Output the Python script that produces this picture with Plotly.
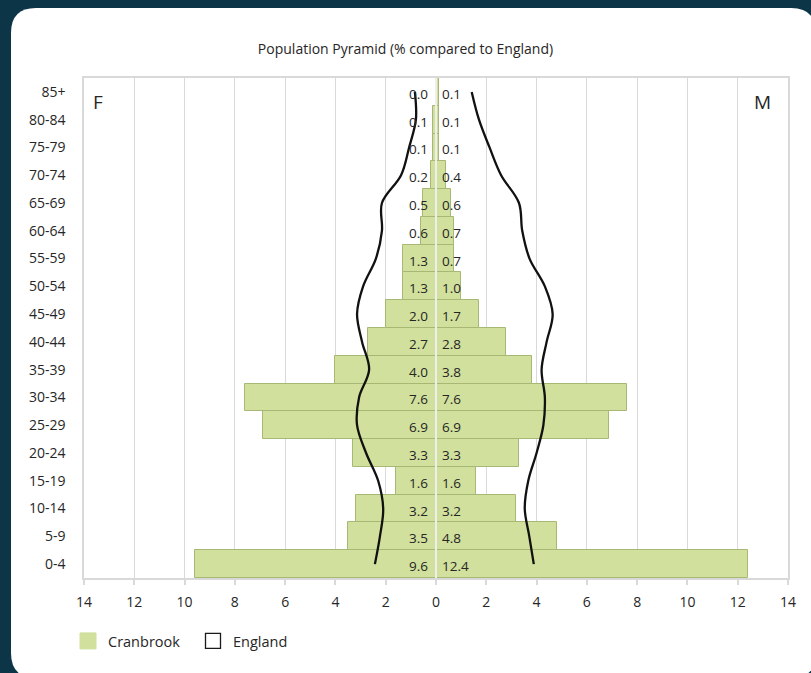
import plotly.graph_objects as go

ages = ["0-4", "5-9", "10-14", "15-19", "20-24", "25-29", "30-34", "35-39", "40-44",
        "45-49", "50-54", "55-59", "60-64", "65-69", "70-74", "75-79", "80-84", "85+"]
cranbrook_f = [9.6, 3.5, 3.2, 1.6, 3.3, 6.9, 7.6, 4.0, 2.7, 2.0, 1.3, 1.3, 0.6, 0.5, 0.2, 0.1, 0.1, 0.0]
cranbrook_m = [12.4, 4.8, 3.2, 1.6, 3.3, 6.9, 7.6, 3.8, 2.8, 1.7, 1.0, 0.7, 0.7, 0.6, 0.4, 0.1, 0.1, 0.1]
england_f = [2.43, 2.23, 2.10, 2.30, 2.78, 3.14, 3.06, 2.66, 2.94, 3.14, 2.90, 2.39, 2.15, 2.15, 1.39, 1.07, 0.80, 0.84]
england_m = [3.89, 3.71, 3.53, 3.67, 4.00, 4.27, 4.33, 4.20, 4.40, 4.64, 4.33, 3.72, 3.43, 3.30, 2.59, 2.13, 1.71, 1.42]
x_ticks = list(range(-14, 15, 2))

FONT = "Open Sans"
BAR_FILL = "#d1e09c"
BAR_LINE = "#a7b874"
TEXT = "#262626"
GRID = "#d9d9d9"

W, H = 811, 673
ML, MR, MT, MB = 84, 23, 78, 95
PW, PH = W - ML - MR, H - MT - MB

fig = go.Figure()
fig.add_trace(go.Bar(y=ages, x=[-v for v in cranbrook_f], orientation="h",
                     marker=dict(color=BAR_FILL, line=dict(color=BAR_LINE, width=1)),
                     showlegend=False, hoverinfo="skip"))
fig.add_trace(go.Bar(y=ages, x=cranbrook_m, orientation="h",
                     marker=dict(color=BAR_FILL, line=dict(color=BAR_LINE, width=1)),
                     showlegend=False, hoverinfo="skip"))
fig.add_trace(go.Scatter(y=ages, x=[-v for v in england_f], mode="lines",
                         line=dict(color="#111111", width=2.3, shape="spline", smoothing=1.0),
                         showlegend=False, hoverinfo="skip"))
fig.add_trace(go.Scatter(y=ages, x=england_m, mode="lines",
                         line=dict(color="#111111", width=2.3, shape="spline", smoothing=1.0),
                         showlegend=False, hoverinfo="skip"))
# legend-only entries
fig.add_trace(go.Scatter(x=[None], y=[None], mode="markers", name="Cranbrook",
                         marker=dict(symbol="square", size=16, color=BAR_FILL,
                                     line=dict(color=BAR_FILL, width=1))))
fig.add_trace(go.Scatter(x=[None], y=[None], mode="markers", name="England",
                         marker=dict(symbol="square", size=15, color="white",
                                     line=dict(color="#1a1a1a", width=1.3))))

annotations = []
for a, f, m in zip(ages, cranbrook_f, cranbrook_m):
    annotations.append(dict(x=-0.22, y=a, xref="x", yref="y", text=f"{f:.1f}", showarrow=False,
                            xanchor="right", yanchor="middle", yshift=-2,
                            font=dict(size=13.5, color=TEXT, family=FONT)))
    annotations.append(dict(x=0.14, y=a, xref="x", yref="y", text=f"{m:.1f}", showarrow=False,
                            xanchor="left", yanchor="middle", yshift=-2,
                            font=dict(size=13.5, color=TEXT, family=FONT)))

def fx(X):
    return (X - ML) / PW

def fy(Y):
    return (H - MB - Y) / PH

annotations.append(dict(x=fx(98), y=fy(102), xref="paper", yref="paper", text="F", showarrow=False,
                        xanchor="center", yanchor="middle",
                        font=dict(size=19, color=TEXT, family=FONT)))
annotations.append(dict(x=fx(762), y=fy(102), xref="paper", yref="paper", text="M", showarrow=False,
                        xanchor="center", yanchor="middle",
                        font=dict(size=19, color=TEXT, family=FONT)))

# white card with rounded corners
L, T, R, B, r = 11, 8, 816, 678, 25
card = (f"M {fx(L + r)},{fy(T)} L {fx(R - r)},{fy(T)} Q {fx(R)},{fy(T)} {fx(R)},{fy(T + r)} "
        f"L {fx(R)},{fy(B - r)} Q {fx(R)},{fy(B)} {fx(R - r)},{fy(B)} "
        f"L {fx(L + r)},{fy(B)} Q {fx(L)},{fy(B)} {fx(L)},{fy(B - r)} "
        f"L {fx(L)},{fy(T + r)} Q {fx(L)},{fy(T)} {fx(L + r)},{fy(T)} Z")
shapes = [
    dict(type="path", path=card, xref="paper", yref="paper", fillcolor="white",
         line=dict(width=0), layer="below"),
    dict(type="line", x0=0, x1=0, y0=0, y1=1, xref="x", yref="paper",
         line=dict(color="#eeeeee", width=2), layer="above"),
]

fig.update_layout(
    width=W, height=H,
    margin=dict(l=ML, r=MR, t=MT, b=MB),
    paper_bgcolor="#0c3548",
    plot_bgcolor="white",
    barmode="overlay", bargap=0,
    font=dict(family=FONT, color=TEXT, size=14),
    title=dict(text="Population Pyramid (% compared to England)", x=0.5, xref="container",
               y=1 - 49 / H, yref="container", yanchor="middle",
               font=dict(size=14, color=TEXT, family=FONT)),
    xaxis=dict(range=[-14, 14], tickvals=x_ticks, ticktext=[str(abs(v)) for v in x_ticks],
               showgrid=True, gridcolor=GRID, gridwidth=1, zeroline=False,
               showline=True, linecolor=GRID, linewidth=1.5, mirror=True,
               ticks="outside", ticklen=5, tickcolor=GRID, tickwidth=1.5,
               tickfont=dict(size=14, color=TEXT), ticklabelstandoff=5, fixedrange=True),
    yaxis=dict(categoryorder="array", categoryarray=ages, showgrid=False,
               showline=True, linecolor=GRID, linewidth=1.5, mirror=True,
               ticks="", tickfont=dict(size=14, color=TEXT), ticklabelstandoff=14,
               range=[-0.5, len(ages) - 0.5], fixedrange=True),
    legend=dict(orientation="h", x=fx(68), y=fy(641), xanchor="left", yanchor="middle",
                font=dict(size=14.5, color=TEXT, family=FONT), bgcolor="rgba(0,0,0,0)",
                itemsizing="trace", traceorder="normal", entrywidth=80),
    annotations=annotations,
    shapes=shapes,
)

fig.write_html("out.html")
